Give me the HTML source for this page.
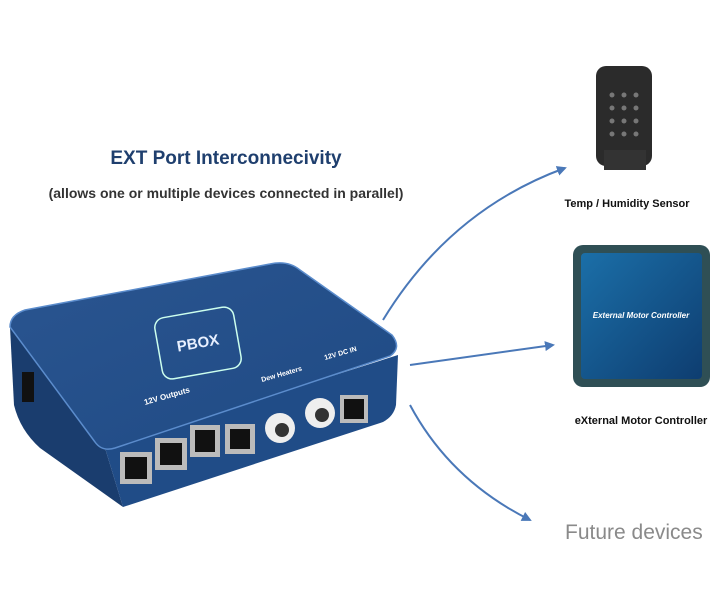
<!DOCTYPE html>
<html><head><style>
body{margin:0;background:#fff;width:720px;height:600px;overflow:hidden;font-family:"Liberation Sans",sans-serif}
</style></head><body>
<svg width="720" height="600" xmlns="http://www.w3.org/2000/svg">
<defs>
<marker id="ah" markerWidth="10" markerHeight="10" refX="8" refY="5" orient="auto" markerUnits="userSpaceOnUse"><path d="M0,0 L10,5 L0,10 z" fill="#4a78b8"/></marker>
<linearGradient id="top" x1="0" y1="0" x2="1" y2="1"><stop offset="0" stop-color="#2a5590"/><stop offset="1" stop-color="#1f4a84"/></linearGradient>
<linearGradient id="mc" x1="0" y1="0" x2="1" y2="1"><stop offset="0" stop-color="#1b6fa8"/><stop offset="1" stop-color="#0e3d70"/></linearGradient>
</defs>
<text x="226" y="164" text-anchor="middle" font-size="19" font-weight="bold" fill="#1f3f6e">EXT Port Interconnecivity</text>
<text x="226" y="198" text-anchor="middle" font-size="14" font-weight="bold" fill="#333">(allows one or multiple devices connected in parallel)</text>
<path d="M383,320 Q450,210 565,168" stroke="#4a78b8" stroke-width="2" fill="none" marker-end="url(#ah)"/>
<path d="M410,365 Q480,355 553,345" stroke="#4a78b8" stroke-width="2" fill="none" marker-end="url(#ah)"/>
<path d="M410,405 Q450,480 530,520" stroke="#4a78b8" stroke-width="2" fill="none" marker-end="url(#ah)"/>
<!-- box -->
<path d="M10,327 L14,405 Q20,430 40,448 L123,507 L105,448 Z" fill="#1a3d6e"/>
<path d="M105,448 L398,355 L396,405 Q394,416 383,422 L123,507 Z" fill="#204c87"/>
<path d="M10,327 Q10,315 25,310 L270,264 Q288,260 300,270 L392,335 Q402,348 390,356 L115,448 Q102,452 95,442 Z" fill="url(#top)" stroke="#5b8ccc" stroke-width="1.5"/>
<rect x="158" y="312" width="80" height="62" rx="10" fill="none" stroke="#cfe" stroke-width="1.5" transform="rotate(-10 198 343)"/>
<text x="198" y="348" text-anchor="middle" font-size="15" font-weight="bold" fill="#e8f0ff" transform="rotate(-10 198 343)">PBOX</text>
<text x="145" y="405" font-size="8" font-weight="bold" fill="#fff" transform="rotate(-16 145 405)">12V Outputs</text>
<text x="262" y="382" font-size="7" font-weight="bold" fill="#fff" transform="rotate(-16 262 382)">Dew Heaters</text>
<text x="325" y="360" font-size="7" font-weight="bold" fill="#fff" transform="rotate(-16 325 360)">12V DC IN</text>
<rect x="22" y="372" width="12" height="30" fill="#111"/>
<g fill="#bbb"><rect x="120" y="452" width="32" height="32"/><rect x="155" y="438" width="32" height="32"/><rect x="190" y="425" width="30" height="32"/><rect x="225" y="424" width="30" height="30"/><rect x="340" y="395" width="28" height="28"/></g>
<g fill="#111"><rect x="125" y="457" width="22" height="22"/><rect x="160" y="443" width="22" height="22"/><rect x="195" y="430" width="20" height="22"/><rect x="230" y="429" width="20" height="20"/><rect x="344" y="399" width="20" height="20"/></g>
<circle cx="280" cy="428" r="15" fill="#eee"/><circle cx="282" cy="430" r="7" fill="#333"/>
<circle cx="320" cy="413" r="15" fill="#eee"/><circle cx="322" cy="415" r="7" fill="#333"/>
<rect x="596" y="66" width="56" height="100" rx="10" fill="#2b2b2b"/>
<rect x="604" y="150" width="42" height="20" fill="#333"/>
<g fill="#777"><circle cx="612" cy="95" r="2.5"/><circle cx="624" cy="95" r="2.5"/><circle cx="636" cy="95" r="2.5"/><circle cx="612" cy="108" r="2.5"/><circle cx="624" cy="108" r="2.5"/><circle cx="636" cy="108" r="2.5"/><circle cx="612" cy="121" r="2.5"/><circle cx="624" cy="121" r="2.5"/><circle cx="636" cy="121" r="2.5"/><circle cx="612" cy="134" r="2.5"/><circle cx="624" cy="134" r="2.5"/><circle cx="636" cy="134" r="2.5"/></g>
<text x="627" y="207" text-anchor="middle" font-size="11" font-weight="bold" fill="#111">Temp / Humidity Sensor</text>
<rect x="573" y="245" width="137" height="142" rx="10" fill="#2f4f55"/>
<rect x="581" y="253" width="121" height="126" rx="4" fill="url(#mc)"/>
<text x="641" y="318" text-anchor="middle" font-size="8" font-style="italic" font-weight="bold" fill="#fff">External Motor Controller</text>
<text x="641" y="424" text-anchor="middle" font-size="11" font-weight="bold" fill="#111">eXternal Motor Controller</text>
<text x="565" y="539" font-size="21" fill="#8a8a8a">Future devices</text>
</svg>
</body></html>
